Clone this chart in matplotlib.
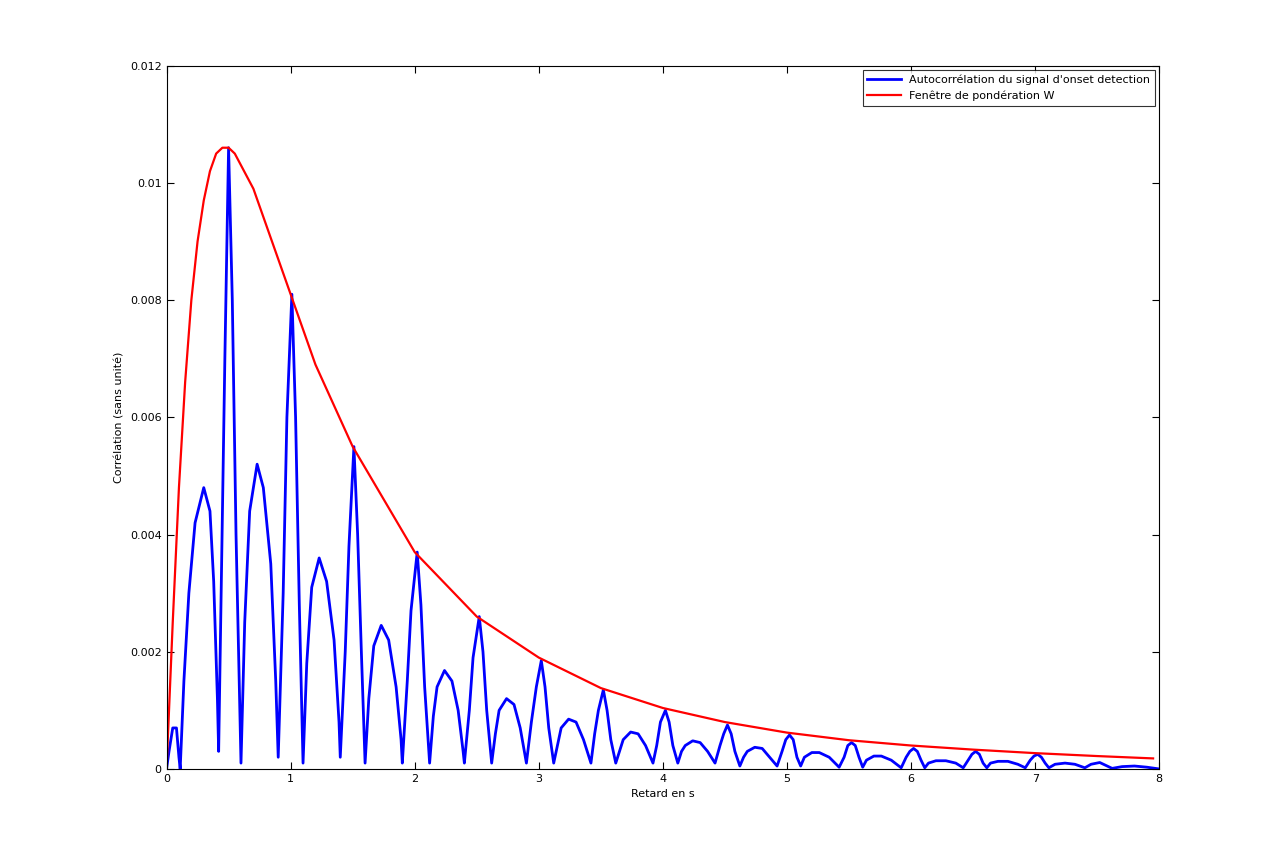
import matplotlib
matplotlib.use("Agg")
import matplotlib.pyplot as plt

# Fenetre de ponderation W
w_x = [0, 0.05, 0.1, 0.15, 0.2, 0.25, 0.3, 0.35, 0.4, 0.45, 0.5, 0.55, 0.6, 0.7, 0.8, 0.9,
       1.0, 1.2, 1.5, 2.0, 2.5, 3.0, 3.5, 4.0, 4.5, 5.0, 5.5, 6.0, 6.5, 7.0, 7.5, 7.95]
w_y = [0, 0.0025, 0.0048, 0.0066, 0.0080, 0.0090, 0.0097, 0.0102, 0.0105, 0.0106, 0.0106,
       0.0105, 0.0103, 0.0099, 0.0093, 0.0087, 0.0081, 0.0069, 0.0055, 0.0037, 0.0026,
       0.0019, 0.00138, 0.00104, 0.0008, 0.00062, 0.00049, 0.0004, 0.00033, 0.00027,
       0.00022, 0.00018]

# Autocorrelation (points lus lobe par lobe)
ac_x = [0, 0.02, 0.05, 0.08, 0.1, 0.11,
        0.14, 0.18, 0.23, 0.3, 0.35, 0.38, 0.41, 0.42,
        0.44, 0.47, 0.5, 0.53, 0.56, 0.6,
        0.63, 0.67, 0.73, 0.78, 0.84, 0.88, 0.9,
        0.94, 0.97, 1.01, 1.04, 1.07, 1.1,
        1.13, 1.17, 1.23, 1.29, 1.35, 1.39, 1.4,
        1.44, 1.47, 1.51, 1.54, 1.57, 1.6,
        1.63, 1.67, 1.73, 1.79, 1.85, 1.89, 1.9,
        1.94, 1.97, 2.02, 2.05, 2.08, 2.12,
        2.15, 2.18, 2.24, 2.3, 2.35, 2.39, 2.4,
        2.44, 2.47, 2.52, 2.55, 2.58, 2.62,
        2.65, 2.68, 2.74, 2.8, 2.85, 2.9,
        2.94, 2.98, 3.02, 3.05, 3.08, 3.12,
        3.15, 3.18, 3.24, 3.3, 3.36, 3.42,
        3.45, 3.48, 3.52, 3.55, 3.58, 3.62,
        3.65, 3.68, 3.74, 3.8, 3.86, 3.92,
        3.95, 3.98, 4.02, 4.05, 4.08, 4.12,
        4.15, 4.18, 4.24, 4.3, 4.36, 4.42,
        4.46, 4.49, 4.52, 4.55, 4.58, 4.62,
        4.65, 4.68, 4.74, 4.8, 4.86, 4.92,
        4.96, 4.99, 5.02, 5.05, 5.08, 5.11,
        5.14, 5.2, 5.26, 5.34, 5.42,
        5.46, 5.49, 5.52, 5.55, 5.58, 5.61,
        5.64, 5.7, 5.76, 5.84, 5.92,
        5.96, 5.99, 6.02, 6.05, 6.08, 6.11,
        6.14, 6.2, 6.28, 6.36, 6.42,
        6.46, 6.49, 6.52, 6.55, 6.58, 6.61,
        6.64, 6.7, 6.78, 6.86, 6.92,
        6.96, 6.99, 7.02, 7.05, 7.08, 7.11,
        7.16, 7.24, 7.32, 7.4,
        7.45, 7.52, 7.58, 7.62,
        7.7, 7.8, 7.9, 8.0]
ac_y = [0, 0.0003, 0.0007, 0.0007, 0.0002, 0,
        0.0015, 0.003, 0.0042, 0.0048, 0.0044, 0.0032, 0.0012, 0.0003,
        0.003, 0.007, 0.0106, 0.008, 0.004, 0.0001,
        0.0025, 0.0044, 0.0052, 0.0048, 0.0035, 0.0015, 0.0002,
        0.003, 0.006, 0.0081, 0.006, 0.0028, 0.0001,
        0.0018, 0.0031, 0.0036, 0.0032, 0.0022, 0.0008, 0.0002,
        0.002, 0.0038, 0.0055, 0.004, 0.002, 0.0001,
        0.0012, 0.0021, 0.00245, 0.0022, 0.0014, 0.0005, 0.0001,
        0.0015, 0.0027, 0.0037, 0.0028, 0.0014, 0.0001,
        0.0009, 0.0014, 0.00168, 0.0015, 0.001, 0.0003, 0.0001,
        0.001, 0.0019, 0.0026, 0.002, 0.001, 0.0001,
        0.0006, 0.001, 0.0012, 0.0011, 0.0007, 0.0001,
        0.0008, 0.0014, 0.00185, 0.0014, 0.0007, 0.0001,
        0.0004, 0.0007, 0.00085, 0.0008, 0.0005, 0.0001,
        0.0006, 0.001, 0.00135, 0.001, 0.0005, 0.0001,
        0.0003, 0.0005, 0.00063, 0.0006, 0.0004, 0.0001,
        0.0004, 0.0008, 0.001, 0.0008, 0.0004, 0.0001,
        0.0003, 0.0004, 0.00048, 0.00045, 0.0003, 0.0001,
        0.0004, 0.0006, 0.00075, 0.0006, 0.0003, 0.00005,
        0.0002, 0.0003, 0.00037, 0.00035, 0.0002, 0.00005,
        0.0003, 0.0005, 0.00058, 0.0005, 0.0002, 0.00005,
        0.0002, 0.00028, 0.00028, 0.0002, 0.00003,
        0.0002, 0.0004, 0.00045, 0.0004, 0.0002, 0.00003,
        0.00015, 0.00022, 0.00022, 0.00015, 0.00002,
        0.0002, 0.0003, 0.00035, 0.0003, 0.00015, 0.00002,
        0.0001, 0.00014, 0.00014, 0.0001, 0.00002,
        0.00015, 0.00025, 0.0003, 0.00025, 0.0001, 0.00002,
        0.0001, 0.00013, 0.00013, 0.00008, 0.00002,
        0.00015, 0.00022, 0.00025, 0.0002, 0.0001, 0.00002,
        0.00008, 0.0001, 0.00008, 0.00002,
        0.00008, 0.00011, 0.00005, 0.00001,
        0.00004, 0.00005, 0.00003, 0.0]

x_ticks = [0, 1, 2, 3, 4, 5, 6, 7, 8]
y_ticks = [0, 0.002, 0.004, 0.006, 0.008, 0.01, 0.012]
y_labels = ['0', '0.002', '0.004', '0.006', '0.008', '0.01', '0.012']

plt.rcParams['font.family'] = ['DejaVu Sans']
plt.rcParams['font.size'] = 8

fig = plt.figure(figsize=(12.81, 8.64), dpi=100)
ax = fig.add_axes([0.130, 0.110, 0.775, 0.814])

ax.plot(ac_x, ac_y, color='#0000ff', lw=2, label="Autocorrélation du signal d'onset detection")
ax.plot(w_x, w_y, color='#ff0000', lw=1.6, label='Fenêtre de pondération W')

ax.set_xlim(0, 8)
ax.set_ylim(0, 0.012)
ax.set_xticks(x_ticks)
ax.set_yticks(y_ticks)
ax.set_yticklabels(y_labels)
ax.tick_params(direction='in', top=True, right=True, length=5, labelsize=8)
ax.set_xlabel('Retard en s', fontsize=8)
ax.set_ylabel('Corrélation (sans unité)', fontsize=8)

leg = ax.legend(loc='upper right', fancybox=False, edgecolor='black', fontsize=8,
                handlelength=3, borderaxespad=0.4)
leg.get_frame().set_linewidth(0.8)

fig.savefig('out.png', dpi=100)
